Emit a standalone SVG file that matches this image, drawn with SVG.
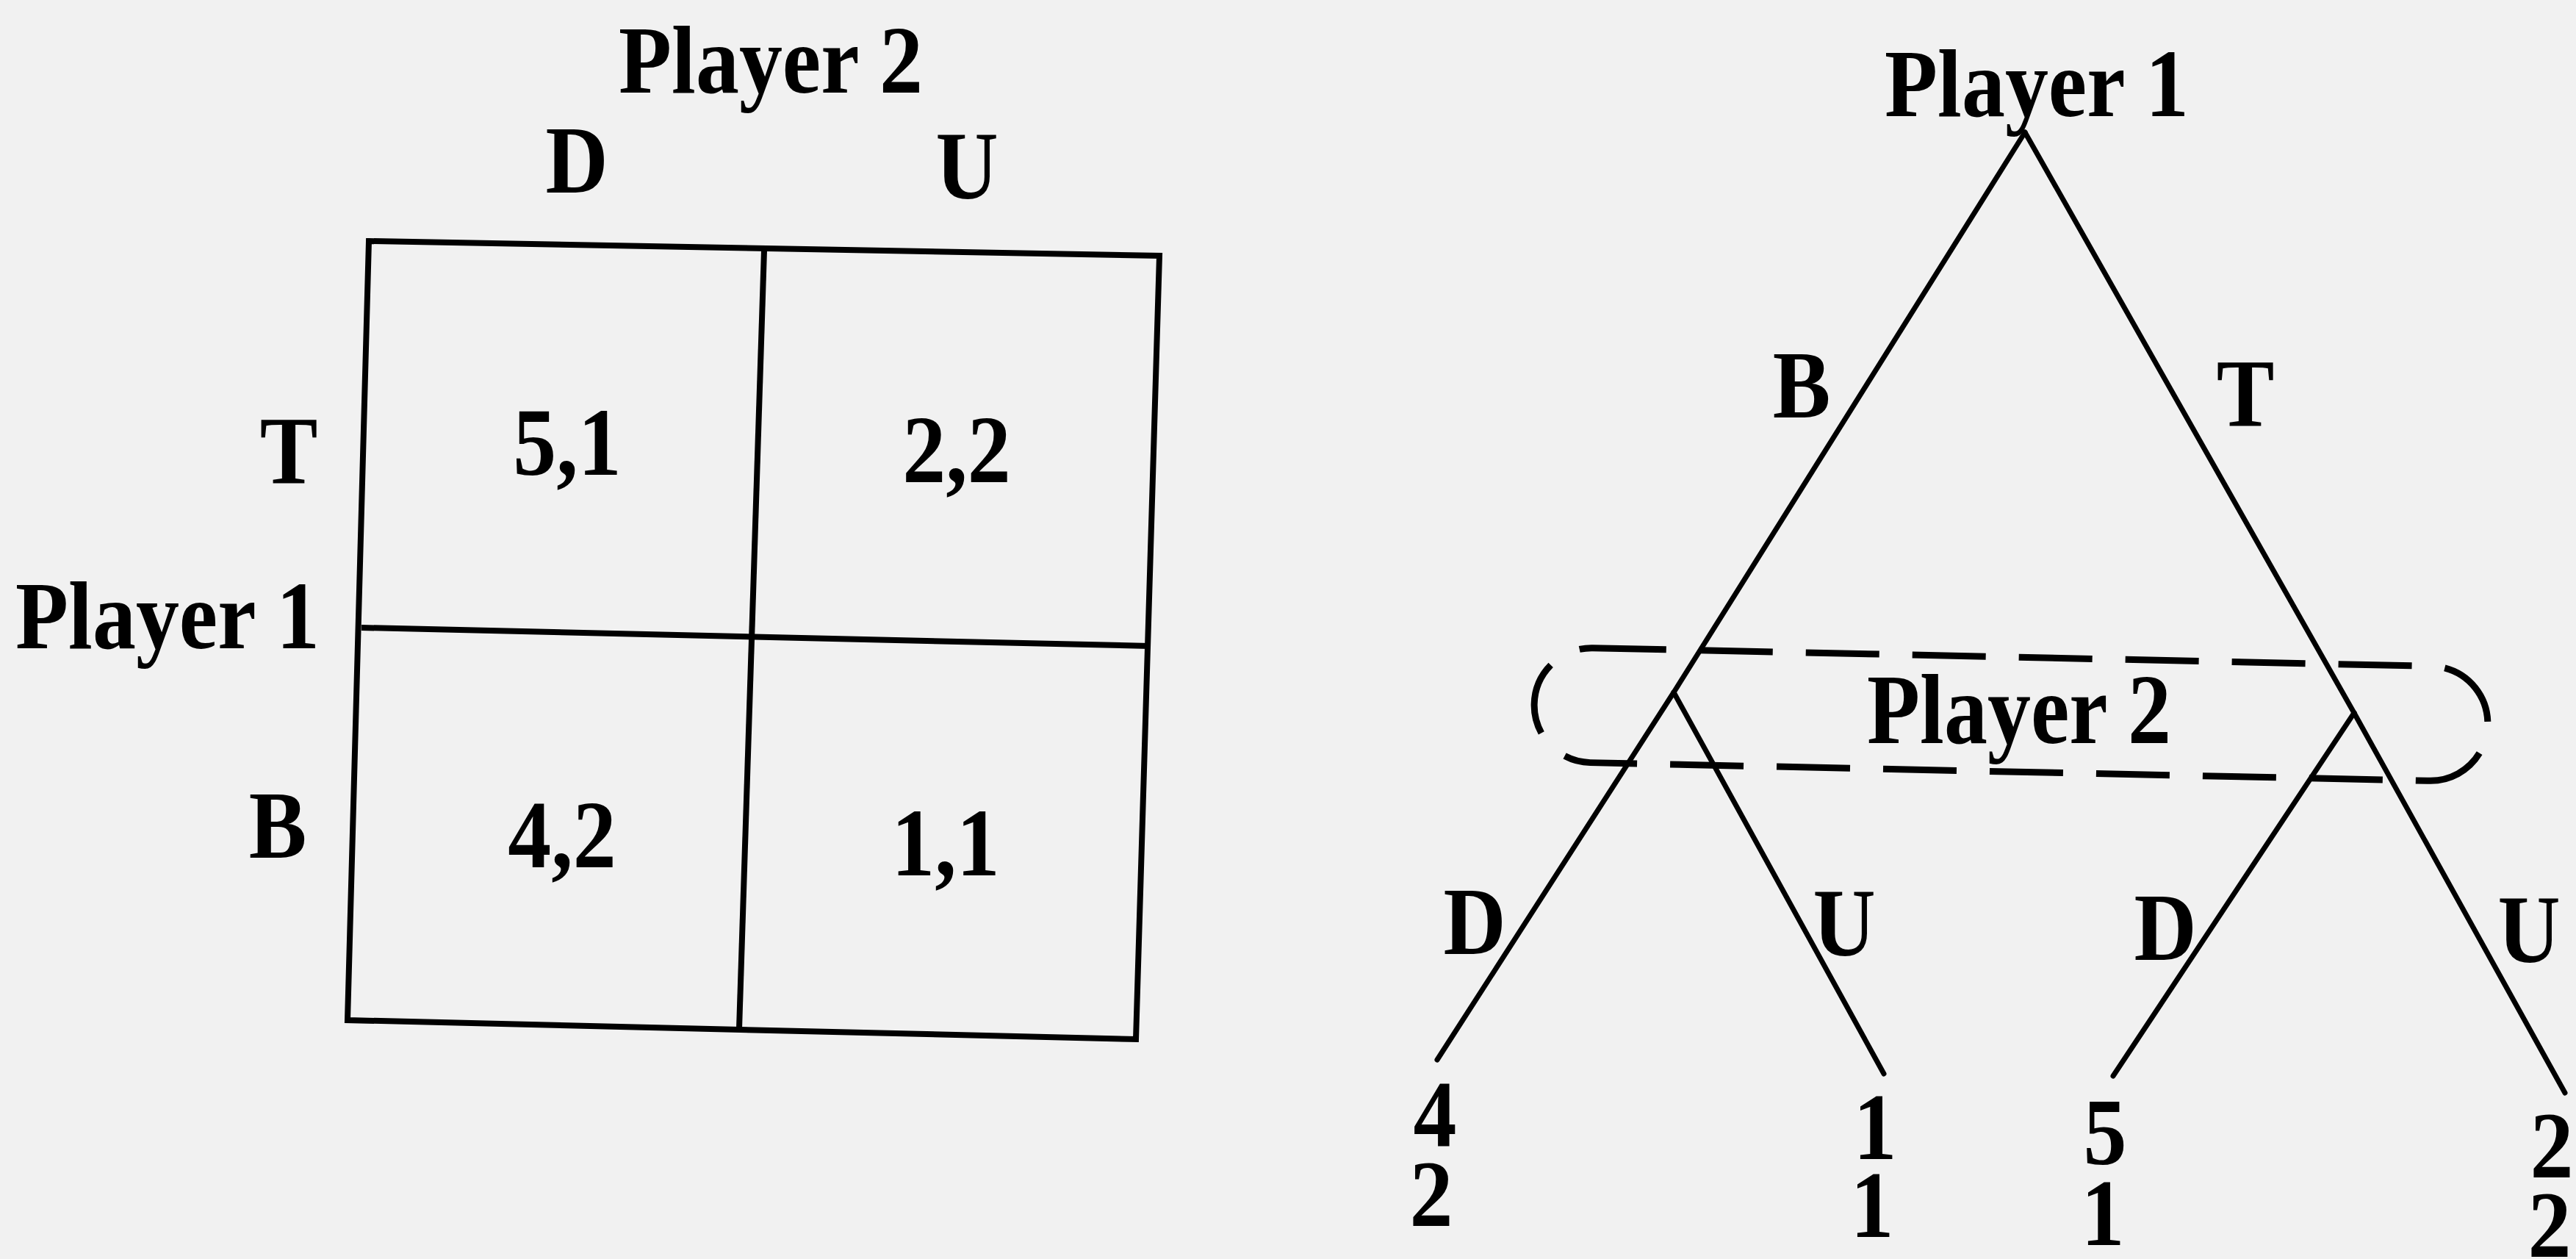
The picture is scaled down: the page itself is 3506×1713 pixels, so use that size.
<svg xmlns="http://www.w3.org/2000/svg" width="3506" height="1713" viewBox="0 0 3506 1713">
<style>
.t{font-family:"Liberation Serif","Times New Roman",serif;font-weight:bold;fill:#000;text-anchor:middle;font-size:118px}
.ln{stroke:#000;stroke-width:7;fill:none;stroke-linecap:round}
.grid{stroke:#000;stroke-width:8;fill:none;stroke-linejoin:miter}
.info{stroke:#000;stroke-width:9;fill:none;stroke-dasharray:100 45}
</style>
<rect width="3506" height="1713" fill="#f1f1f1"/>
<g id="matrix">
<polygon class="grid" points="502,328 1578,348 1546,1414 473,1388"/>
<line class="grid" x1="1040" y1="341" x2="1006" y2="1400"/>
<line class="grid" x1="492" y1="854" x2="1565" y2="879"/>
<text class="t" transform="translate(1049 126) scale(1 1.12)">Player 2</text>
<text class="t" transform="translate(785 262) scale(1 1.12)">D</text>
<text class="t" transform="translate(1316 270) scale(1 1.12)">U</text>
<text class="t" transform="translate(393 657) scale(1 1.12)">T</text>
<text class="t" transform="translate(228 882) scale(1 1.12)">Player 1</text>
<text class="t" transform="translate(378 1167) scale(1 1.12)">B</text>
<text class="t" transform="translate(772 646) scale(1 1.12)">5,1</text>
<text class="t" transform="translate(1302 656) scale(1 1.12)">2,2</text>
<text class="t" transform="translate(765 1180) scale(1 1.12)">4,2</text>
<text class="t" transform="translate(1287 1191) scale(1 1.12)">1,1</text>
</g>
<g id="connectors">
<line class="ln" x1="2756" y1="180" x2="2278" y2="942"/>
<line class="ln" x1="2756" y1="180" x2="3204" y2="970"/>
<line class="ln" x1="2278" y1="942" x2="1956" y2="1442"/>
<line class="ln" x1="2278" y1="942" x2="2564" y2="1461"/>
<line class="ln" x1="3204" y1="970" x2="2876" y2="1464"/>
<line class="ln" x1="3204" y1="970" x2="3491" y2="1487"/>
<text class="t" transform="translate(2452 568) scale(1 1.12)">B</text>
<text class="t" transform="translate(3056 579) scale(1 1.12)">T</text>
<text class="t" transform="translate(2007 1298) scale(1 1.12)">D</text>
<text class="t" transform="translate(2510 1300) scale(1 1.12)">U</text>
<text class="t" transform="translate(2947 1306) scale(1 1.12)">D</text>
<text class="t" transform="translate(3442 1309) scale(1 1.12)">U</text>
</g>
<g id="root">
<text class="t" transform="translate(2772 158) scale(1 1.12)">Player 1</text>
</g>
<g id="player2-info-set">
<rect class="info" x="2088" y="894" width="1298" height="156" rx="78" ry="78" transform="rotate(1.24 2737 972)"/>
<text class="t" transform="translate(2748 1011) scale(1 1.14)">Player 2</text>
</g>
<g id="leaf-BD">
<text class="t" transform="translate(1953 1560) scale(1 1.1)"><tspan x="0" y="0">4</tspan><tspan x="-5" y="98">2</tspan></text>
</g>
<g id="leaf-BU">
<text class="t" transform="translate(2552 1577) scale(1 1.1)"><tspan x="0" y="0">1</tspan><tspan x="-4" y="96">1</tspan></text>
</g>
<g id="leaf-TD">
<text class="t" transform="translate(2865 1584) scale(1 1.1)"><tspan x="0" y="0">5</tspan><tspan x="-3" y="100">1</tspan></text>
</g>
<g id="leaf-TU">
<text class="t" transform="translate(3473 1602) scale(1 1.1)"><tspan x="0" y="0">2</tspan><tspan x="-3" y="98">2</tspan></text>
</g>
</svg>
